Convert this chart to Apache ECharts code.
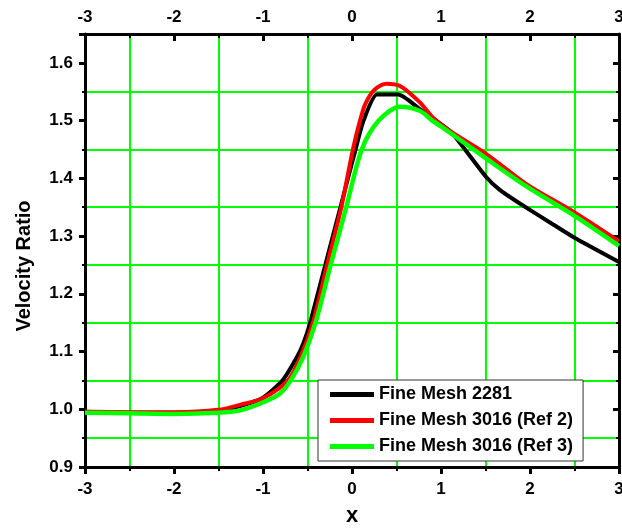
<!DOCTYPE html>
<html>
<head>
<meta charset="utf-8">
<script src="https://cdn.jsdelivr.net/npm/echarts@6/dist/echarts.min.js"></script>
<style>
html,body{margin:0;padding:0;background:#fff;}
#chart{width:622px;height:528px;}
</style>
</head>
<body>
<div id="chart"></div>
<script>
// series values
var blackX = [-3, -2.5, -2, -1.5, -1.25, -1.0, -0.78, -0.62, -0.547, -0.47, -0.3, -0.13, 0.04, 0.13, 0.28, 0.52, 0.76, 1.1, 1.25, 1.51, 1.66, 1.89, 2.26, 2.5, 3.0];
var blackY = [0.995, 0.994, 0.994, 0.998, 1.006, 1.02, 1.05, 1.09, 1.114, 1.15, 1.25, 1.35, 1.45, 1.50, 1.545, 1.545, 1.52, 1.482, 1.454, 1.402, 1.38, 1.356, 1.32, 1.297, 1.255];

var redX = [-3, -2.5, -2, -1.5, -1.25, -1.0, -0.72, -0.58, -0.44, -0.28, -0.12, 0.01, 0.09, 0.15, 0.25, 0.39, 0.54, 0.76, 0.91, 1.1, 1.51, 1.96, 2.5, 3.0];
var redY = [0.996, 0.995, 0.995, 0.999, 1.008, 1.019, 1.05, 1.09, 1.15, 1.25, 1.35, 1.45, 1.50, 1.529, 1.553, 1.564, 1.56, 1.532, 1.505, 1.482, 1.442, 1.39, 1.341, 1.291];

var greenX = [-3, -2.5, -2, -1.5, -1.26, -1.03, -0.81, -0.69, -0.55, -0.41, -0.24, -0.065, 0.11, 0.3, 0.54, 0.76, 0.91, 1.0, 1.51, 1.96, 2.5, 3.0];
var greenY = [0.994, 0.993, 0.992, 0.994, 0.998, 1.010, 1.027, 1.05, 1.09, 1.15, 1.25, 1.35, 1.45, 1.50, 1.524, 1.517, 1.499, 1.49, 1.434, 1.386, 1.335, 1.283];

var seriesNames = ['Fine Mesh 2281', 'Fine Mesh 3016 (Ref 2)', 'Fine Mesh 3016 (Ref 3)'];
var seriesColors = ['#000000', '#ff0000', '#00ff00'];

function pairs(xs, ys){
    var out = [];
    for (var i = 0; i < xs.length; i++) { out.push([xs[i], ys[i]]); }
    return out;
}

var font = 'Liberation Sans, Arial, sans-serif';
var chart = echarts.init(document.getElementById('chart'));

var xBase = {
    type: 'value', min: -3, max: 3, interval: 1,
    axisLine: { show: true, onZero: false, lineStyle: { color: '#000', width: 3 } },
    splitLine: { show: false }
};
var yBase = {
    type: 'value', min: 0.9, max: 1.65, interval: 0.1,
    axisLine: { show: true, onZero: false, lineStyle: { color: '#000', width: 3 } },
    splitLine: { show: false }
};

var option = {
    backgroundColor: '#fff',
    animation: false,
    grid: { left: 85, right: 3, top: 34, bottom: 61, containLabel: false, outerBoundsMode: 'none' },
    xAxis: [
        Object.assign({}, xBase, {
            position: 'bottom',
            name: 'x', nameLocation: 'middle', nameGap: 38,
            nameTextStyle: { fontFamily: font, fontWeight: 'bold', fontSize: 22, color: '#000' },
            axisTick: { show: true, inside: false, length: 7, lineStyle: { color: '#000', width: 3 } },
            minorTick: { show: true, splitNumber: 2, length: 4, lineStyle: { color: '#000', width: 2 } },
            minorSplitLine: { show: true, lineStyle: { color: '#00ff00', width: 2 } },
            axisLabel: { margin: 14, fontFamily: font, fontWeight: 'bold', fontSize: 17, color: '#000' }
        }),
        Object.assign({}, xBase, {
            position: 'top',
            axisTick: { show: true, inside: true, length: 7, lineStyle: { color: '#000', width: 3 } },
            minorTick: { show: true, splitNumber: 2, length: 4, lineStyle: { color: '#000', width: 2 } },
            axisLabel: { margin: 8, fontFamily: font, fontWeight: 'bold', fontSize: 17, color: '#000' }
        })
    ],
    yAxis: [
        Object.assign({}, yBase, {
            position: 'left',
            axisTick: { show: true, inside: false, length: 6, lineStyle: { color: '#000', width: 3 } },
            minorTick: { show: true, splitNumber: 2, length: 3, lineStyle: { color: '#000', width: 2 } },
            axisLabel: {
                margin: 12, fontFamily: font, fontWeight: 'bold', fontSize: 17, color: '#000',
                formatter: function (v) { return Math.abs(v - 1.65) < 1e-6 ? '' : v.toFixed(1); }
            }
        }),
        Object.assign({}, yBase, {
            position: 'right',
            axisTick: { show: true, inside: true, length: 6, lineStyle: { color: '#000', width: 3 } },
            minorTick: { show: true, splitNumber: 2, length: 3, lineStyle: { color: '#000', width: 2 } },
            axisLabel: { show: false }
        }),
        {
            // green grid at the half steps
            type: 'value', min: 0.9, max: 1.65, interval: 0.05, position: 'left',
            axisLine: { show: false }, axisTick: { show: false }, axisLabel: { show: false },
            splitLine: { show: true, lineStyle: { color: ['rgba(0,0,0,0)', '#00ff00'], width: 2 } }
        }
    ],
    legend: {
        orient: 'vertical',
        left: 318, top: 380,
        padding: [5, 10, 5, 12],
        itemGap: 7,
        itemWidth: 44, itemHeight: 5,
        icon: 'rect',
        selectedMode: false,
        backgroundColor: '#fff',
        borderColor: '#333', borderWidth: 1,
        textStyle: { fontFamily: font, fontWeight: 'bold', fontSize: 18, color: '#000', lineHeight: 19 },
        data: seriesNames
    },
    graphic: [{
        type: 'text',
        x: 24, y: 266,
        rotation: Math.PI / 2,
        style: {
            text: 'Velocity Ratio',
            font: 'bold 20px ' + font,
            fill: '#000',
            align: 'center',
            verticalAlign: 'middle'
        }
    }],
    series: [
        { name: seriesNames[0], type: 'line', data: pairs(blackX, blackY), smooth: 0.2,
          showSymbol: false, color: seriesColors[0], lineStyle: { width: 4, color: seriesColors[0] } },
        { name: seriesNames[1], type: 'line', data: pairs(redX, redY), smooth: 0.3,
          showSymbol: false, color: seriesColors[1], lineStyle: { width: 4, color: seriesColors[1] } },
        { name: seriesNames[2], type: 'line', data: pairs(greenX, greenY), smooth: 0.3,
          showSymbol: false, color: seriesColors[2], lineStyle: { width: 4.5, color: seriesColors[2] } }
    ]
};

chart.setOption(option);
</script>
</body>
</html>
